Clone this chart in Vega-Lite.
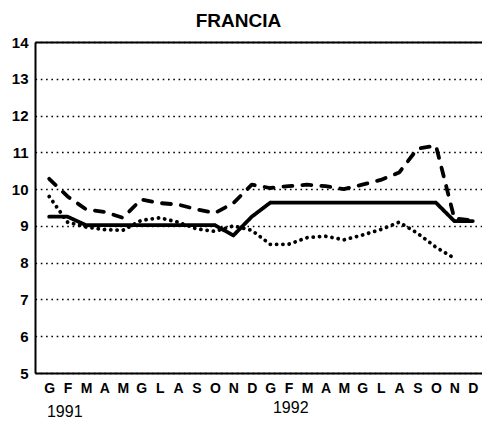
{
  "$schema": "https://vega.github.io/schema/vega-lite/v6.json",
  "width": 447,
  "height": 331,
  "autosize": {"type": "none"},
  "padding": {"left": 35, "top": 42, "right": 0, "bottom": 54},
  "background": "white",
  "title": {"text": "FRANCIA", "font": "Liberation Sans", "fontSize": 19, "fontWeight": "bold", "color": "black", "anchor": "middle", "dx": -20, "baseline": "alphabetic", "offset": -11},
  "config": {
    "view": {"stroke": null},
    "font": "Liberation Sans",
    "axisY": {"values": [5,6,7,8,9,10,11,12,13,14], "title": null, "ticks": false, "labelPadding": 7, "labelFontSize": 15, "labelFontWeight": "bold", "labelColor": "black", "labelFont": "Liberation Sans",
      "domainColor": "black", "domainWidth": 2, "grid": true, "gridColor": "black", "gridDash": [1.6, 3.7], "gridWidth": 1.7, "gridOpacity": 1, "labelFlush": false, "labelOverlap": false}
  },
  "datasets": {
    "series": [
      {"m":0,"s":"C","v":9.8},{"m":1,"s":"C","v":9.1},{"m":2,"s":"C","v":8.97},{"m":3,"s":"C","v":8.9},{"m":4,"s":"C","v":8.88},{"m":5,"s":"C","v":9.15},{"m":6,"s":"C","v":9.22},{"m":7,"s":"C","v":9.1},{"m":8,"s":"C","v":8.92},{"m":9,"s":"C","v":8.85},{"m":10,"s":"C","v":9.0},{"m":11,"s":"C","v":8.88},{"m":12,"s":"C","v":8.5},{"m":13,"s":"C","v":8.5},{"m":14,"s":"C","v":8.68},{"m":15,"s":"C","v":8.72},{"m":16,"s":"C","v":8.62},{"m":17,"s":"C","v":8.75},{"m":18,"s":"C","v":8.9},{"m":19,"s":"C","v":9.1},{"m":20,"s":"C","v":8.8},{"m":21,"s":"C","v":8.42},{"m":22,"s":"C","v":8.12},
      {"m":0,"s":"B","v":10.28},{"m":1,"s":"B","v":9.8},{"m":2,"s":"B","v":9.45},{"m":3,"s":"B","v":9.38},{"m":4,"s":"B","v":9.22},{"m":5,"s":"B","v":9.72},{"m":6,"s":"B","v":9.62},{"m":7,"s":"B","v":9.58},{"m":8,"s":"B","v":9.45},{"m":9,"s":"B","v":9.35},{"m":10,"s":"B","v":9.62},{"m":11,"s":"B","v":10.12},{"m":12,"s":"B","v":10.03},{"m":13,"s":"B","v":10.08},{"m":14,"s":"B","v":10.12},{"m":15,"s":"B","v":10.08},{"m":16,"s":"B","v":10.0},{"m":17,"s":"B","v":10.12},{"m":18,"s":"B","v":10.25},{"m":19,"s":"B","v":10.45},{"m":20,"s":"B","v":11.1},{"m":21,"s":"B","v":11.18},{"m":22,"s":"B","v":9.2},{"m":23,"s":"B","v":9.15},
      {"m":0,"s":"A","v":9.25},{"m":1,"s":"A","v":9.25},{"m":2,"s":"A","v":9.02},{"m":3,"s":"A","v":9.02},{"m":4,"s":"A","v":9.02},{"m":5,"s":"A","v":9.02},{"m":6,"s":"A","v":9.02},{"m":7,"s":"A","v":9.02},{"m":8,"s":"A","v":9.02},{"m":9,"s":"A","v":9.02},{"m":10,"s":"A","v":8.74},{"m":11,"s":"A","v":9.25},{"m":12,"s":"A","v":9.63},{"m":13,"s":"A","v":9.63},{"m":14,"s":"A","v":9.63},{"m":15,"s":"A","v":9.63},{"m":16,"s":"A","v":9.63},{"m":17,"s":"A","v":9.63},{"m":18,"s":"A","v":9.63},{"m":19,"s":"A","v":9.63},{"m":20,"s":"A","v":9.63},{"m":21,"s":"A","v":9.63},{"m":22,"s":"A","v":9.13},{"m":23,"s":"A","v":9.13}
    ],
    "years": [
      {"m": -0.12, "v": 3.8, "year": "1991"},
      {"m": 12.15, "v": 3.91, "year": "1992"}
    ]
  },
  "layer": [
    {
      "data": {"name": "series"},
      "mark": {"type": "line", "color": "black", "strokeWidth": 3.8, "strokeCap": "round", "strokeJoin": "round"},
      "encoding": {
        "x": {"field": "m", "type": "quantitative",
          "scale": {"domain": [-0.77, 23.5], "nice": false, "zero": false},
          "axis": {"orient": "bottom", "values": [0,1,2,3,4,5,6,7,8,9,10,11,12,13,14,15,16,17,18,19,20,21,22,23],
            "labelExpr": "substring('GFMAMGLASOND', datum.value % 12, datum.value % 12 + 1)",
            "title": null, "grid": false, "ticks": false, "labelPadding": 8, "labelFontSize": 14, "labelColor": "black", "labelFont": "Liberation Sans", "labelFontWeight": "bold",
            "domainColor": "black", "domainWidth": 2, "labelFlush": false, "labelOverlap": false}},
        "y": {"field": "v", "type": "quantitative",
          "scale": {"domain": [5, 14], "nice": false, "zero": false},
          "axis": {"values": [5,6,7,8,9,10,11,12,13,14], "labelOverlap": false, "labelFlush": false}},
        "strokeDash": {"field": "s", "type": "nominal", "scale": {"domain": ["A", "B", "C"], "range": [[1, 0], [9, 10], [0.1, 6.2]]}, "legend": null},
        "order": {"field": "m", "type": "quantitative"}
      }
    },
    {
      "data": {"name": "years"},
      "mark": {"type": "text", "align": "left", "baseline": "alphabetic", "fontSize": 16, "color": "black", "font": "Liberation Sans"},
      "encoding": {
        "x": {"field": "m", "type": "quantitative",
          "axis": {"orient": "top", "labels": false, "ticks": false, "grid": false, "title": null, "domainColor": "black", "domainWidth": 2}},
        "y": {"field": "v", "type": "quantitative",
          "axis": {"values": [5,6,7,8,9,10,11,12,13,14], "labelOverlap": false, "labelFlush": false}},
        "text": {"field": "year"}
      }
    }
  ],
  "resolve": {"axis": {"x": "independent"}}
}
